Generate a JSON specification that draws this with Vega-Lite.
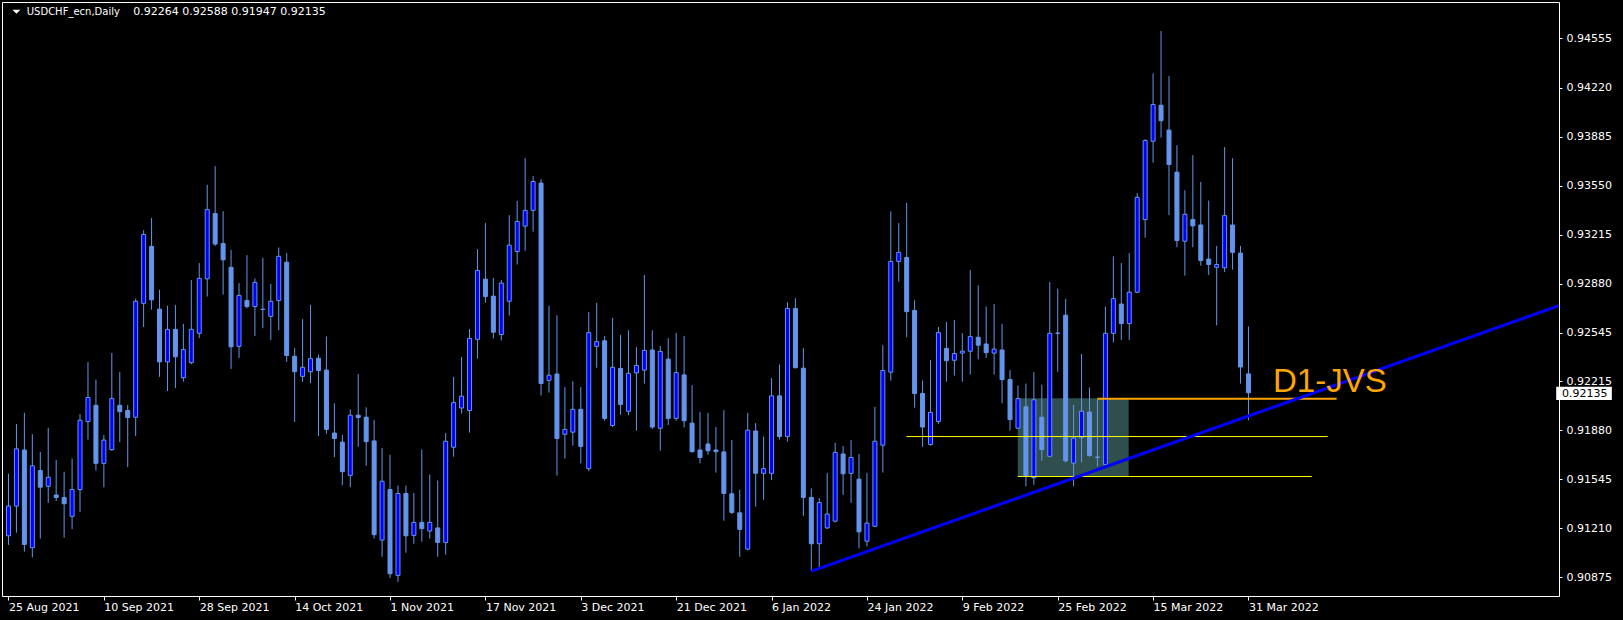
{
  "$schema": "https://vega.github.io/schema/vega-lite/v6.json",
  "autosize": "none",
  "width": 1557,
  "height": 594,
  "padding": {"left": 2, "top": 2, "right": 64, "bottom": 24},
  "background": "#000000",
  "config": {
    "view": {"stroke": "#FFFFFF", "strokeWidth": 1, "fill": "#000000"},
    "axis": {"labelColor": "#FFFFFF", "labelFont": "DejaVu Sans", "labelFontSize": 11, "tickColor": "#FFFFFF", "tickWidth": 1,
      "domain": false, "grid": false, "labelFlush": false, "labelOverlap": false, "labelBound": false,
      "labelAlign": "left", "labelBaseline": "middle"},
    "axisX": {"tickSize": 4, "labelPadding": 7},
    "axisY": {"tickSize": 3, "labelPadding": 4}
  },
  "datasets": {
    "candles": [
      {"i":0,"o":0.91158,"h":0.91582,"l":0.91096,"c":0.91361},
      {"i":1,"o":0.91361,"h":0.91922,"l":0.91180,"c":0.91752},
      {"i":2,"o":0.91744,"h":0.91998,"l":0.91050,"c":0.91099},
      {"i":3,"o":0.91077,"h":0.91852,"l":0.91010,"c":0.91636},
      {"i":4,"o":0.91604,"h":0.91731,"l":0.91140,"c":0.91490},
      {"i":5,"o":0.91496,"h":0.91896,"l":0.91383,"c":0.91558},
      {"i":6,"o":0.91437,"h":0.91677,"l":0.91396,"c":0.91420},
      {"i":7,"o":0.91420,"h":0.91596,"l":0.91145,"c":0.91377},
      {"i":8,"o":0.91291,"h":0.91685,"l":0.91204,"c":0.91474},
      {"i":9,"o":0.91474,"h":0.91990,"l":0.91320,"c":0.91947},
      {"i":10,"o":0.91939,"h":0.92344,"l":0.91815,"c":0.92103},
      {"i":11,"o":0.92049,"h":0.92225,"l":0.91604,"c":0.91653},
      {"i":12,"o":0.91653,"h":0.91847,"l":0.91490,"c":0.91812},
      {"i":13,"o":0.91747,"h":0.92406,"l":0.91739,"c":0.92095},
      {"i":14,"o":0.92049,"h":0.92276,"l":0.91798,"c":0.92006},
      {"i":15,"o":0.92014,"h":0.92052,"l":0.91628,"c":0.91966},
      {"i":16,"o":0.91968,"h":0.92778,"l":0.91839,"c":0.92760},
      {"i":17,"o":0.92746,"h":0.93245,"l":0.92584,"c":0.93216},
      {"i":18,"o":0.93135,"h":0.93329,"l":0.92703,"c":0.92770},
      {"i":19,"o":0.92706,"h":0.92838,"l":0.92244,"c":0.92346},
      {"i":20,"o":0.92346,"h":0.92730,"l":0.92147,"c":0.92568},
      {"i":21,"o":0.92568,"h":0.92735,"l":0.92168,"c":0.92381},
      {"i":22,"o":0.92238,"h":0.92606,"l":0.92211,"c":0.92430},
      {"i":23,"o":0.92341,"h":0.92905,"l":0.92330,"c":0.92568},
      {"i":24,"o":0.92541,"h":0.93021,"l":0.92508,"c":0.92916},
      {"i":25,"o":0.92913,"h":0.93556,"l":0.92792,"c":0.93386},
      {"i":26,"o":0.93359,"h":0.93683,"l":0.93138,"c":0.93151},
      {"i":27,"o":0.93154,"h":0.93375,"l":0.92805,"c":0.93043},
      {"i":28,"o":0.92992,"h":0.93111,"l":0.92298,"c":0.92449},
      {"i":29,"o":0.92452,"h":0.92884,"l":0.92373,"c":0.92800},
      {"i":30,"o":0.92765,"h":0.93075,"l":0.92711,"c":0.92724},
      {"i":31,"o":0.92724,"h":0.92916,"l":0.92522,"c":0.92889},
      {"i":32,"o":0.92706,"h":0.93057,"l":0.92576,"c":0.92704},
      {"i":33,"o":0.92657,"h":0.92878,"l":0.92495,"c":0.92760},
      {"i":34,"o":0.92765,"h":0.93127,"l":0.92562,"c":0.93067},
      {"i":35,"o":0.93027,"h":0.93089,"l":0.92346,"c":0.92390},
      {"i":36,"o":0.92384,"h":0.92441,"l":0.91936,"c":0.92279},
      {"i":37,"o":0.92247,"h":0.92638,"l":0.92209,"c":0.92309},
      {"i":38,"o":0.92279,"h":0.92735,"l":0.92201,"c":0.92368},
      {"i":39,"o":0.92371,"h":0.92395,"l":0.91839,"c":0.92287},
      {"i":40,"o":0.92290,"h":0.92519,"l":0.91855,"c":0.91885},
      {"i":41,"o":0.91860,"h":0.92063,"l":0.91696,"c":0.91823},
      {"i":42,"o":0.91798,"h":0.91847,"l":0.91504,"c":0.91596},
      {"i":43,"o":0.91571,"h":0.92022,"l":0.91490,"c":0.91982},
      {"i":44,"o":0.91982,"h":0.92263,"l":0.91766,"c":0.91966},
      {"i":45,"o":0.91968,"h":0.92036,"l":0.91636,"c":0.91801},
      {"i":46,"o":0.91806,"h":0.91950,"l":0.91140,"c":0.91166},
      {"i":47,"o":0.91129,"h":0.91758,"l":0.91015,"c":0.91531},
      {"i":48,"o":0.91474,"h":0.91712,"l":0.90870,"c":0.90899},
      {"i":49,"o":0.90888,"h":0.91501,"l":0.90843,"c":0.91447},
      {"i":50,"o":0.91447,"h":0.91501,"l":0.91042,"c":0.91158},
      {"i":51,"o":0.91161,"h":0.91450,"l":0.91104,"c":0.91250},
      {"i":52,"o":0.91250,"h":0.91747,"l":0.91118,"c":0.91207},
      {"i":53,"o":0.91191,"h":0.91577,"l":0.91140,"c":0.91250},
      {"i":54,"o":0.91212,"h":0.91536,"l":0.91015,"c":0.91113},
      {"i":55,"o":0.91113,"h":0.91860,"l":0.91029,"c":0.91804},
      {"i":56,"o":0.91763,"h":0.92244,"l":0.91698,"c":0.92068},
      {"i":57,"o":0.92031,"h":0.92379,"l":0.91993,"c":0.92112},
      {"i":58,"o":0.92014,"h":0.92571,"l":0.91863,"c":0.92506},
      {"i":59,"o":0.92500,"h":0.93116,"l":0.92368,"c":0.92970},
      {"i":60,"o":0.92911,"h":0.93294,"l":0.92751,"c":0.92792},
      {"i":61,"o":0.92795,"h":0.92919,"l":0.92506,"c":0.92549},
      {"i":62,"o":0.92533,"h":0.92905,"l":0.92492,"c":0.92884},
      {"i":63,"o":0.92760,"h":0.93348,"l":0.92662,"c":0.93143},
      {"i":64,"o":0.93100,"h":0.93445,"l":0.93011,"c":0.93305},
      {"i":65,"o":0.93273,"h":0.93737,"l":0.93105,"c":0.93381},
      {"i":66,"o":0.93381,"h":0.93615,"l":0.93235,"c":0.93578},
      {"i":67,"o":0.93567,"h":0.93594,"l":0.92117,"c":0.92198},
      {"i":68,"o":0.92220,"h":0.92730,"l":0.92136,"c":0.92255},
      {"i":69,"o":0.92263,"h":0.92665,"l":0.91569,"c":0.91823},
      {"i":70,"o":0.91852,"h":0.92174,"l":0.91685,"c":0.91885},
      {"i":71,"o":0.91866,"h":0.92214,"l":0.91774,"c":0.92022},
      {"i":72,"o":0.92022,"h":0.92174,"l":0.91653,"c":0.91769},
      {"i":73,"o":0.91617,"h":0.92687,"l":0.91599,"c":0.92546},
      {"i":74,"o":0.92452,"h":0.92749,"l":0.92306,"c":0.92484},
      {"i":75,"o":0.92490,"h":0.92522,"l":0.91944,"c":0.91960},
      {"i":76,"o":0.91912,"h":0.92646,"l":0.91901,"c":0.92309},
      {"i":77,"o":0.92301,"h":0.92530,"l":0.91985,"c":0.92055},
      {"i":78,"o":0.92009,"h":0.92562,"l":0.91982,"c":0.92268},
      {"i":79,"o":0.92271,"h":0.92446,"l":0.91877,"c":0.92322},
      {"i":80,"o":0.92290,"h":0.92940,"l":0.92198,"c":0.92425},
      {"i":81,"o":0.92427,"h":0.92562,"l":0.91887,"c":0.91901},
      {"i":82,"o":0.91893,"h":0.92454,"l":0.91739,"c":0.92417},
      {"i":83,"o":0.92365,"h":0.92508,"l":0.91914,"c":0.91960},
      {"i":84,"o":0.91960,"h":0.92543,"l":0.91944,"c":0.92273},
      {"i":85,"o":0.92257,"h":0.92522,"l":0.91898,"c":0.91944},
      {"i":86,"o":0.91928,"h":0.92187,"l":0.91725,"c":0.91733},
      {"i":87,"o":0.91744,"h":0.92003,"l":0.91653,"c":0.91693},
      {"i":88,"o":0.91785,"h":0.91998,"l":0.91712,"c":0.91739},
      {"i":89,"o":0.91744,"h":0.91901,"l":0.91590,"c":0.91733},
      {"i":90,"o":0.91731,"h":0.92017,"l":0.91261,"c":0.91447},
      {"i":91,"o":0.91445,"h":0.91812,"l":0.91307,"c":0.91318},
      {"i":92,"o":0.91315,"h":0.91472,"l":0.91015,"c":0.91202},
      {"i":93,"o":0.91067,"h":0.91998,"l":0.91058,"c":0.91879},
      {"i":94,"o":0.91874,"h":0.91928,"l":0.91358,"c":0.91585},
      {"i":95,"o":0.91585,"h":0.91836,"l":0.91404,"c":0.91617},
      {"i":96,"o":0.91585,"h":0.92236,"l":0.91539,"c":0.92114},
      {"i":97,"o":0.92114,"h":0.92328,"l":0.91815,"c":0.91836},
      {"i":98,"o":0.91836,"h":0.92754,"l":0.91801,"c":0.92711},
      {"i":99,"o":0.92711,"h":0.92781,"l":0.92301,"c":0.92306},
      {"i":100,"o":0.92303,"h":0.92441,"l":0.91293,"c":0.91420},
      {"i":101,"o":0.91420,"h":0.91482,"l":0.90921,"c":0.91104},
      {"i":102,"o":0.91104,"h":0.91415,"l":0.90942,"c":0.91385},
      {"i":103,"o":0.91212,"h":0.91588,"l":0.91204,"c":0.91307},
      {"i":104,"o":0.91258,"h":0.91793,"l":0.91250,"c":0.91728},
      {"i":105,"o":0.91717,"h":0.91771,"l":0.91437,"c":0.91582},
      {"i":106,"o":0.91585,"h":0.91812,"l":0.91383,"c":0.91693},
      {"i":107,"o":0.91545,"h":0.91717,"l":0.91072,"c":0.91185},
      {"i":108,"o":0.91121,"h":0.91588,"l":0.91086,"c":0.91245},
      {"i":109,"o":0.91223,"h":0.92039,"l":0.91220,"c":0.91804},
      {"i":110,"o":0.91777,"h":0.92460,"l":0.91590,"c":0.92287},
      {"i":111,"o":0.92276,"h":0.93375,"l":0.92217,"c":0.93032},
      {"i":112,"o":0.93032,"h":0.93294,"l":0.92894,"c":0.93094},
      {"i":113,"o":0.93059,"h":0.93432,"l":0.92514,"c":0.92689},
      {"i":114,"o":0.92697,"h":0.92768,"l":0.92033,"c":0.92130},
      {"i":115,"o":0.92130,"h":0.92220,"l":0.91766,"c":0.91901},
      {"i":116,"o":0.91782,"h":0.92360,"l":0.91774,"c":0.92001},
      {"i":117,"o":0.91939,"h":0.92584,"l":0.91922,"c":0.92546},
      {"i":118,"o":0.92438,"h":0.92619,"l":0.92211,"c":0.92354},
      {"i":119,"o":0.92357,"h":0.92633,"l":0.92252,"c":0.92403},
      {"i":120,"o":0.92406,"h":0.92543,"l":0.92211,"c":0.92419},
      {"i":121,"o":0.92419,"h":0.92973,"l":0.92260,"c":0.92519},
      {"i":122,"o":0.92514,"h":0.92868,"l":0.92363,"c":0.92460},
      {"i":123,"o":0.92468,"h":0.92724,"l":0.92373,"c":0.92409},
      {"i":124,"o":0.92406,"h":0.92741,"l":0.92260,"c":0.92433},
      {"i":125,"o":0.92427,"h":0.92606,"l":0.92063,"c":0.92225},
      {"i":126,"o":0.92225,"h":0.92290,"l":0.91877,"c":0.91952},
      {"i":127,"o":0.91893,"h":0.92184,"l":0.91890,"c":0.92095},
      {"i":128,"o":0.92039,"h":0.92198,"l":0.91496,"c":0.91569},
      {"i":129,"o":0.91555,"h":0.92276,"l":0.91507,"c":0.92087},
      {"i":130,"o":0.91968,"h":0.92190,"l":0.91671,"c":0.91747},
      {"i":131,"o":0.91701,"h":0.92892,"l":0.91695,"c":0.92541},
      {"i":132,"o":0.92541,"h":0.92846,"l":0.92279,"c":0.92543},
      {"i":133,"o":0.92665,"h":0.92776,"l":0.91658,"c":0.91671},
      {"i":134,"o":0.91655,"h":0.92052,"l":0.91496,"c":0.91825},
      {"i":135,"o":0.91828,"h":0.92400,"l":0.91658,"c":0.92009},
      {"i":136,"o":0.92003,"h":0.92171,"l":0.91698,"c":0.91707},
      {"i":137,"o":0.91696,"h":0.92090,"l":0.91631,"c":0.91693},
      {"i":138,"o":0.91644,"h":0.92724,"l":0.91640,"c":0.92541},
      {"i":139,"o":0.92541,"h":0.93067,"l":0.92479,"c":0.92778},
      {"i":140,"o":0.92741,"h":0.93021,"l":0.92495,"c":0.92608},
      {"i":141,"o":0.92608,"h":0.93089,"l":0.92495,"c":0.92822},
      {"i":142,"o":0.92822,"h":0.93499,"l":0.92815,"c":0.93470},
      {"i":143,"o":0.93318,"h":0.93867,"l":0.93194,"c":0.93858},
      {"i":144,"o":0.93853,"h":0.94317,"l":0.93707,"c":0.94104},
      {"i":145,"o":0.94099,"h":0.94606,"l":0.93877,"c":0.93993},
      {"i":146,"o":0.93929,"h":0.94299,"l":0.93348,"c":0.93694},
      {"i":147,"o":0.93642,"h":0.93826,"l":0.93129,"c":0.93175},
      {"i":148,"o":0.93170,"h":0.93518,"l":0.92935,"c":0.93354},
      {"i":149,"o":0.93318,"h":0.93758,"l":0.93129,"c":0.93275},
      {"i":150,"o":0.93281,"h":0.93575,"l":0.93003,"c":0.93038},
      {"i":151,"o":0.93048,"h":0.93448,"l":0.92940,"c":0.93011},
      {"i":152,"o":0.92992,"h":0.93138,"l":0.92595,"c":0.93011},
      {"i":153,"o":0.92989,"h":0.93813,"l":0.92959,"c":0.93345},
      {"i":154,"o":0.93281,"h":0.93737,"l":0.92976,"c":0.93094},
      {"i":155,"o":0.93089,"h":0.93138,"l":0.92198,"c":0.92311},
      {"i":156,"o":0.92264,"h":0.92588,"l":0.91947,"c":0.92135}
    ],
    "zone": [{"x1": 126.97, "x2": 140.93, "p1": 0.92098, "p2": 0.91563}],
    "yellow": [
      {"x1": 112.97, "x2": 165.97, "p": 0.91836},
      {"x1": 126.97, "x2": 163.97, "p": 0.91563}
    ],
    "orange": [{"x1": 137.0, "x2": 167.09, "p": 0.92095}],
    "trend": [{"x1": 100.965, "p1": 0.90915, "x2": 196.0, "p2": 0.92748}],
    "tag": [{"x": 159.09, "p": 0.92143, "t": "D1-JVS"}],
    "headername": [{"x": 2.3, "p": 0.94733, "t": "USDCHF_ecn,Daily"}],
    "headerprices": [{"x": 15.71, "p": 0.94733, "t": "0.92264 0.92588 0.91947 0.92135"}],
    "arrow": [{"x": 1.0, "p": 0.94737}],
    "pricebox": [{"x1": 194.715, "x2": 201.715, "p1": 0.92176, "p2": 0.92085, "tx": 195.43, "p": 0.92130, "t": "0.92135"}]
  },
  "layer": [
    {
      "data": {"name": "zone"},
      "mark": {"type": "rect", "color": "#2F4F4F", "clip": true},
      "encoding": {
        "x": {"field": "x1", "type": "quantitative", "scale": {"domain": [-0.1875, 194.4375], "nice": false, "zero": false},
          "axis": {"orient": "bottom", "title": null, "values": [0,12,24,36,48,60,72,84,96,108,120,132,144,156],
            "labelExpr": "['25 Aug 2021','10 Sep 2021','28 Sep 2021','14 Oct 2021','1 Nov 2021','17 Nov 2021','3 Dec 2021','21 Dec 2021','6 Jan 2022','24 Jan 2022','9 Feb 2022','25 Feb 2022','15 Mar 2022','31 Mar 2022'][round(datum.value/12)]"}},
        "x2": {"field": "x2"},
        "y": {"field": "p1", "type": "quantitative", "scale": {"domain": [0.90747, 0.94804], "nice": false, "zero": false},
          "axis": {"orient": "right", "title": null, "format": ".5f", "values": [0.90875,0.9121,0.91545,0.9188,0.92215,0.92545,0.9288,0.93215,0.9355,0.93885,0.9422,0.94555]}},
        "y2": {"field": "p2"}
      }
    },
    {
      "data": {"name": "candles"},
      "mark": {"type": "rule", "color": "#6495ED", "strokeWidth": 1, "clip": true},
      "encoding": {
        "x": {"field": "i", "type": "quantitative", "scale": {"domain": [-0.1875, 194.4375], "nice": false, "zero": false},
          "axis": {"orient": "bottom", "title": null, "values": [0,12,24,36,48,60,72,84,96,108,120,132,144,156],
            "labelExpr": "['25 Aug 2021','10 Sep 2021','28 Sep 2021','14 Oct 2021','1 Nov 2021','17 Nov 2021','3 Dec 2021','21 Dec 2021','6 Jan 2022','24 Jan 2022','9 Feb 2022','25 Feb 2022','15 Mar 2022','31 Mar 2022'][round(datum.value/12)]"}},
        "y": {"field": "l", "type": "quantitative", "scale": {"domain": [0.90747, 0.94804], "nice": false, "zero": false},
          "axis": {"orient": "right", "title": null, "format": ".5f", "values": [0.90875,0.9121,0.91545,0.9188,0.92215,0.92545,0.9288,0.93215,0.9355,0.93885,0.9422,0.94555]}},
        "y2": {"field": "h"}
      }
    },
    {
      "data": {"name": "candles"},
      "mark": {"type": "bar", "orient": "vertical", "size": 4, "stroke": "#6495ED", "strokeWidth": 1, "clip": true},
      "encoding": {
        "x": {"field": "i", "type": "quantitative", "scale": {"domain": [-0.1875, 194.4375], "nice": false, "zero": false},
          "axis": {"orient": "bottom", "title": null, "values": [0,12,24,36,48,60,72,84,96,108,120,132,144,156],
            "labelExpr": "['25 Aug 2021','10 Sep 2021','28 Sep 2021','14 Oct 2021','1 Nov 2021','17 Nov 2021','3 Dec 2021','21 Dec 2021','6 Jan 2022','24 Jan 2022','9 Feb 2022','25 Feb 2022','15 Mar 2022','31 Mar 2022'][round(datum.value/12)]"}},
        "y": {"field": "o", "type": "quantitative", "scale": {"domain": [0.90747, 0.94804], "nice": false, "zero": false},
          "axis": {"orient": "right", "title": null, "format": ".5f", "values": [0.90875,0.9121,0.91545,0.9188,0.92215,0.92545,0.9288,0.93215,0.9355,0.93885,0.9422,0.94555]}},
        "y2": {"field": "c"},
        "fill": {"condition": {"test": "datum.c >= datum.o", "value": "#0000FF"}, "value": "#6495ED"}
      }
    },
    {
      "data": {"name": "yellow"},
      "mark": {"type": "rule", "color": "#FFFF00", "strokeWidth": 1, "clip": true},
      "encoding": {
        "x": {"field": "x1", "type": "quantitative", "scale": {"domain": [-0.1875, 194.4375], "nice": false, "zero": false},
          "axis": {"orient": "bottom", "title": null, "values": [0,12,24,36,48,60,72,84,96,108,120,132,144,156],
            "labelExpr": "['25 Aug 2021','10 Sep 2021','28 Sep 2021','14 Oct 2021','1 Nov 2021','17 Nov 2021','3 Dec 2021','21 Dec 2021','6 Jan 2022','24 Jan 2022','9 Feb 2022','25 Feb 2022','15 Mar 2022','31 Mar 2022'][round(datum.value/12)]"}},
        "x2": {"field": "x2"},
        "y": {"field": "p", "type": "quantitative", "scale": {"domain": [0.90747, 0.94804], "nice": false, "zero": false},
          "axis": {"orient": "right", "title": null, "format": ".5f", "values": [0.90875,0.9121,0.91545,0.9188,0.92215,0.92545,0.9288,0.93215,0.9355,0.93885,0.9422,0.94555]}}
      }
    },
    {
      "data": {"name": "orange"},
      "mark": {"type": "rule", "color": "#FFA500", "strokeWidth": 2, "clip": true},
      "encoding": {
        "x": {"field": "x1", "type": "quantitative", "scale": {"domain": [-0.1875, 194.4375], "nice": false, "zero": false},
          "axis": {"orient": "bottom", "title": null, "values": [0,12,24,36,48,60,72,84,96,108,120,132,144,156],
            "labelExpr": "['25 Aug 2021','10 Sep 2021','28 Sep 2021','14 Oct 2021','1 Nov 2021','17 Nov 2021','3 Dec 2021','21 Dec 2021','6 Jan 2022','24 Jan 2022','9 Feb 2022','25 Feb 2022','15 Mar 2022','31 Mar 2022'][round(datum.value/12)]"}},
        "x2": {"field": "x2"},
        "y": {"field": "p", "type": "quantitative", "scale": {"domain": [0.90747, 0.94804], "nice": false, "zero": false},
          "axis": {"orient": "right", "title": null, "format": ".5f", "values": [0.90875,0.9121,0.91545,0.9188,0.92215,0.92545,0.9288,0.93215,0.9355,0.93885,0.9422,0.94555]}}
      }
    },
    {
      "data": {"name": "trend"},
      "mark": {"type": "rule", "color": "#0000FF", "strokeWidth": 3, "clip": true},
      "encoding": {
        "x": {"field": "x1", "type": "quantitative", "scale": {"domain": [-0.1875, 194.4375], "nice": false, "zero": false},
          "axis": {"orient": "bottom", "title": null, "values": [0,12,24,36,48,60,72,84,96,108,120,132,144,156],
            "labelExpr": "['25 Aug 2021','10 Sep 2021','28 Sep 2021','14 Oct 2021','1 Nov 2021','17 Nov 2021','3 Dec 2021','21 Dec 2021','6 Jan 2022','24 Jan 2022','9 Feb 2022','25 Feb 2022','15 Mar 2022','31 Mar 2022'][round(datum.value/12)]"}},
        "x2": {"field": "x2"},
        "y": {"field": "p1", "type": "quantitative", "scale": {"domain": [0.90747, 0.94804], "nice": false, "zero": false},
          "axis": {"orient": "right", "title": null, "format": ".5f", "values": [0.90875,0.9121,0.91545,0.9188,0.92215,0.92545,0.9288,0.93215,0.9355,0.93885,0.9422,0.94555]}},
        "y2": {"field": "p2"}
      }
    },
    {
      "data": {"name": "tag"},
      "mark": {"type": "text", "color": "#FFA500", "font": "Liberation Sans", "fontSize": 33, "align": "left", "baseline": "alphabetic"},
      "encoding": {
        "x": {"field": "x", "type": "quantitative", "scale": {"domain": [-0.1875, 194.4375], "nice": false, "zero": false},
          "axis": {"orient": "bottom", "title": null, "values": [0,12,24,36,48,60,72,84,96,108,120,132,144,156],
            "labelExpr": "['25 Aug 2021','10 Sep 2021','28 Sep 2021','14 Oct 2021','1 Nov 2021','17 Nov 2021','3 Dec 2021','21 Dec 2021','6 Jan 2022','24 Jan 2022','9 Feb 2022','25 Feb 2022','15 Mar 2022','31 Mar 2022'][round(datum.value/12)]"}},
        "y": {"field": "p", "type": "quantitative", "scale": {"domain": [0.90747, 0.94804], "nice": false, "zero": false},
          "axis": {"orient": "right", "title": null, "format": ".5f", "values": [0.90875,0.9121,0.91545,0.9188,0.92215,0.92545,0.9288,0.93215,0.9355,0.93885,0.9422,0.94555]}},
        "text": {"field": "t"}
      }
    },
    {
      "data": {"name": "headername"},
      "mark": {"type": "text", "color": "#FFFFFF", "font": "DejaVu Sans", "fontSize": 10, "align": "left", "baseline": "middle"},
      "encoding": {
        "x": {"field": "x", "type": "quantitative", "scale": {"domain": [-0.1875, 194.4375], "nice": false, "zero": false},
          "axis": {"orient": "bottom", "title": null, "values": [0,12,24,36,48,60,72,84,96,108,120,132,144,156],
            "labelExpr": "['25 Aug 2021','10 Sep 2021','28 Sep 2021','14 Oct 2021','1 Nov 2021','17 Nov 2021','3 Dec 2021','21 Dec 2021','6 Jan 2022','24 Jan 2022','9 Feb 2022','25 Feb 2022','15 Mar 2022','31 Mar 2022'][round(datum.value/12)]"}},
        "y": {"field": "p", "type": "quantitative", "scale": {"domain": [0.90747, 0.94804], "nice": false, "zero": false},
          "axis": {"orient": "right", "title": null, "format": ".5f", "values": [0.90875,0.9121,0.91545,0.9188,0.92215,0.92545,0.9288,0.93215,0.9355,0.93885,0.9422,0.94555]}},
        "text": {"field": "t"}
      }
    },
    {
      "data": {"name": "headerprices"},
      "mark": {"type": "text", "color": "#FFFFFF", "font": "DejaVu Sans", "fontSize": 11, "align": "left", "baseline": "middle"},
      "encoding": {
        "x": {"field": "x", "type": "quantitative", "scale": {"domain": [-0.1875, 194.4375], "nice": false, "zero": false},
          "axis": {"orient": "bottom", "title": null, "values": [0,12,24,36,48,60,72,84,96,108,120,132,144,156],
            "labelExpr": "['25 Aug 2021','10 Sep 2021','28 Sep 2021','14 Oct 2021','1 Nov 2021','17 Nov 2021','3 Dec 2021','21 Dec 2021','6 Jan 2022','24 Jan 2022','9 Feb 2022','25 Feb 2022','15 Mar 2022','31 Mar 2022'][round(datum.value/12)]"}},
        "y": {"field": "p", "type": "quantitative", "scale": {"domain": [0.90747, 0.94804], "nice": false, "zero": false},
          "axis": {"orient": "right", "title": null, "format": ".5f", "values": [0.90875,0.9121,0.91545,0.9188,0.92215,0.92545,0.9288,0.93215,0.9355,0.93885,0.9422,0.94555]}},
        "text": {"field": "t"}
      }
    },
    {
      "data": {"name": "arrow"},
      "mark": {"type": "point", "shape": "M-1,-0.5L1,-0.5L0,0.5Z", "size": 64, "filled": true, "color": "#FFFFFF", "opacity": 1},
      "encoding": {
        "x": {"field": "x", "type": "quantitative", "scale": {"domain": [-0.1875, 194.4375], "nice": false, "zero": false},
          "axis": {"orient": "bottom", "title": null, "values": [0,12,24,36,48,60,72,84,96,108,120,132,144,156],
            "labelExpr": "['25 Aug 2021','10 Sep 2021','28 Sep 2021','14 Oct 2021','1 Nov 2021','17 Nov 2021','3 Dec 2021','21 Dec 2021','6 Jan 2022','24 Jan 2022','9 Feb 2022','25 Feb 2022','15 Mar 2022','31 Mar 2022'][round(datum.value/12)]"}},
        "y": {"field": "p", "type": "quantitative", "scale": {"domain": [0.90747, 0.94804], "nice": false, "zero": false},
          "axis": {"orient": "right", "title": null, "format": ".5f", "values": [0.90875,0.9121,0.91545,0.9188,0.92215,0.92545,0.9288,0.93215,0.9355,0.93885,0.9422,0.94555]}}
      }
    },
    {
      "data": {"name": "pricebox"},
      "mark": {"type": "rect", "color": "#FFFFFF", "clip": false},
      "encoding": {
        "x": {"field": "x1", "type": "quantitative", "scale": {"domain": [-0.1875, 194.4375], "nice": false, "zero": false},
          "axis": {"orient": "bottom", "title": null, "values": [0,12,24,36,48,60,72,84,96,108,120,132,144,156],
            "labelExpr": "['25 Aug 2021','10 Sep 2021','28 Sep 2021','14 Oct 2021','1 Nov 2021','17 Nov 2021','3 Dec 2021','21 Dec 2021','6 Jan 2022','24 Jan 2022','9 Feb 2022','25 Feb 2022','15 Mar 2022','31 Mar 2022'][round(datum.value/12)]"}},
        "x2": {"field": "x2"},
        "y": {"field": "p1", "type": "quantitative", "scale": {"domain": [0.90747, 0.94804], "nice": false, "zero": false},
          "axis": {"orient": "right", "title": null, "format": ".5f", "values": [0.90875,0.9121,0.91545,0.9188,0.92215,0.92545,0.9288,0.93215,0.9355,0.93885,0.9422,0.94555]}},
        "y2": {"field": "p2"}
      }
    },
    {
      "data": {"name": "pricebox"},
      "mark": {"type": "text", "color": "#000000", "font": "DejaVu Sans", "fontSize": 11, "align": "left", "baseline": "middle", "clip": false},
      "encoding": {
        "x": {"field": "tx", "type": "quantitative", "scale": {"domain": [-0.1875, 194.4375], "nice": false, "zero": false},
          "axis": {"orient": "bottom", "title": null, "values": [0,12,24,36,48,60,72,84,96,108,120,132,144,156],
            "labelExpr": "['25 Aug 2021','10 Sep 2021','28 Sep 2021','14 Oct 2021','1 Nov 2021','17 Nov 2021','3 Dec 2021','21 Dec 2021','6 Jan 2022','24 Jan 2022','9 Feb 2022','25 Feb 2022','15 Mar 2022','31 Mar 2022'][round(datum.value/12)]"}},
        "y": {"field": "p", "type": "quantitative", "scale": {"domain": [0.90747, 0.94804], "nice": false, "zero": false},
          "axis": {"orient": "right", "title": null, "format": ".5f", "values": [0.90875,0.9121,0.91545,0.9188,0.92215,0.92545,0.9288,0.93215,0.9355,0.93885,0.9422,0.94555]}},
        "text": {"field": "t"}
      }
    }
  ]
}
